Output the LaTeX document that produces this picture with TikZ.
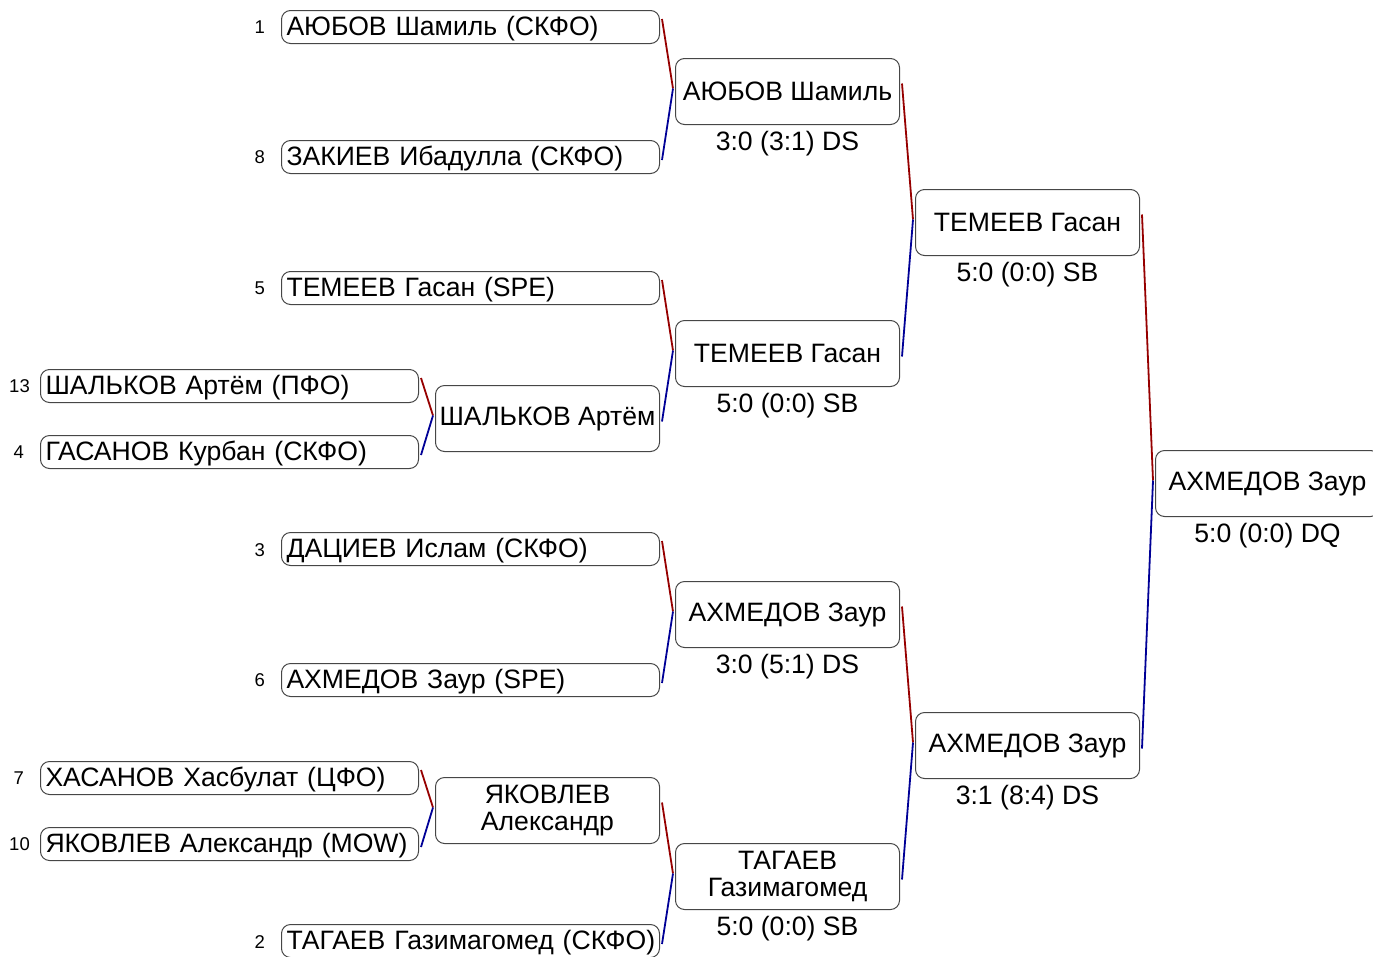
\documentclass[tikz,border=0pt]{standalone}
\usepackage{fontspec}
\setmainfont{Liberation Sans}
\usetikzlibrary{calc}
\definecolor{redline}{RGB}{150,0,0}
\definecolor{blueline}{RGB}{0,0,150}
\definecolor{boxline}{RGB}{70,70,70}
\tikzset{
  entry/.style={draw=boxline, line width=1pt, rounded corners=9pt, anchor=north west,
    text width=368pt, align=left, inner xsep=5pt, inner ysep=0pt, minimum height=33pt,
    text height=21pt, text depth=4pt,
    font=\fontsize{26.6}{27}\selectfont},
  winner/.style={draw=boxline, line width=1pt, rounded corners=9pt, anchor=north west,
    minimum width=224pt, minimum height=66pt, inner xsep=3pt, inner ysep=0pt, align=center,
    font=\fontsize{26.6}{27}\selectfont},
  seed/.style={anchor=east, inner sep=0pt, font=\fontsize{18.5}{22}\selectfont},
  score/.style={anchor=center, inner sep=0pt, font=\fontsize{26.6}{27}\selectfont},
  redc/.style={draw=redline, line width=1.8pt},
  bluec/.style={draw=blueline, line width=1.8pt}
}
\newcommand{\bout}[3]{%
  \coordinate (m#3) at ([xshift=-2pt,yshift=3pt]#3.west);
  \draw[redc] ([xshift=2pt,yshift=8pt]#1.east) -- (m#3);
  \draw[bluec] (m#3) -- ([xshift=2pt,yshift=-3pt]#2.east);
}
\begin{document}
\begin{tikzpicture}[x=1pt,y=-1pt]
\useasboundingbox (0,0) rectangle (1373,956);
\clip (0,0) rectangle (1373,956);
% round 1 entries
\node[entry] (e1) at (281,10) {АЮБОВ Шамиль (СКФО)};
\node[entry] (e8) at (281,140) {ЗАКИЕВ Ибадулла (СКФО)};
\node[entry] (e5) at (281,271) {ТЕМЕЕВ Гасан (SPE)};
\node[entry] (e3) at (281,532) {ДАЦИЕВ Ислам (СКФО)};
\node[entry] (e6) at (281,663) {АХМЕДОВ Заур (SPE)};
\node[entry] (e2) at (281,924) {\mbox{ТАГАЕВ Газимагомед (СКФО)}};
% preliminary entries
\node[entry] (e13) at (40,369) {ШАЛЬКОВ Артём (ПФО)};
\node[entry] (e4) at (40,435) {ГАСАНОВ Курбан (СКФО)};
\node[entry] (e7) at (40,761) {ХАСАНОВ Хасбулат (ЦФО)};
\node[entry] (e10) at (40,827) {ЯКОВЛЕВ Александр (MOW)};
% seeds
\node[seed] (s1) at (265,27) {1};
\node[seed] (s8) at (265,157) {8};
\node[seed] (s5) at (265,288) {5};
\node[seed] (s3) at (265,550) {3};
\node[seed] (s6) at (265,680) {6};
\node[seed] (s2) at (265,942) {2};
\node[seed] (s13) at (30,386) {13};
\node[seed] (s4) at (24,452) {4};
\node[seed] (s7) at (24,778) {7};
\node[seed] (s10) at (30,844) {10};
% preliminary winners
\node[winner] (p1) at (435,385) {ШАЛЬКОВ Артём};
\node[winner] (p2) at (435,777) {ЯКОВЛЕВ\\Александр};
% round 2
\node[winner] (r1) at (675,58) {АЮБОВ Шамиль};
\node[winner] (r2) at (675,320) {ТЕМЕЕВ Гасан};
\node[winner] (r3) at (675,581) {АХМЕДОВ Заур};
\node[winner] (r4) at (675,843) {ТАГАЕВ\\Газимагомед};
% round 3
\node[winner] (q1) at (915,189) {ТЕМЕЕВ Гасан};
\node[winner] (q2) at (915,712) {АХМЕДОВ Заур};
% final
\node[winner] (f) at (1155,450) {АХМЕДОВ Заур};
% scores
\node[score] (sr1) at ([yshift=-19pt]r1.south) {3:0 (3:1) DS};
\node[score] (sr2) at ([yshift=-19pt]r2.south) {5:0 (0:0) SB};
\node[score] (sr3) at ([yshift=-19pt]r3.south) {3:0 (5:1) DS};
\node[score] (sr4) at ([yshift=-19pt]r4.south) {5:0 (0:0) SB};
\node[score] (sq1) at ([yshift=-19pt]q1.south) {5:0 (0:0) SB};
\node[score] (sq2) at ([yshift=-19pt]q2.south) {3:1 (8:4) DS};
\node[score] (sf) at ([yshift=-19pt]f.south) {5:0 (0:0) DQ};
% connectors
\bout{e13}{e4}{p1}
\bout{e7}{e10}{p2}
\bout{e1}{e8}{r1}
\bout{e5}{p1}{r2}
\bout{e3}{e6}{r3}
\bout{p2}{e2}{r4}
\bout{r1}{r2}{q1}
\bout{r3}{r4}{q2}
\bout{q1}{q2}{f}
\end{tikzpicture}
\end{document}
